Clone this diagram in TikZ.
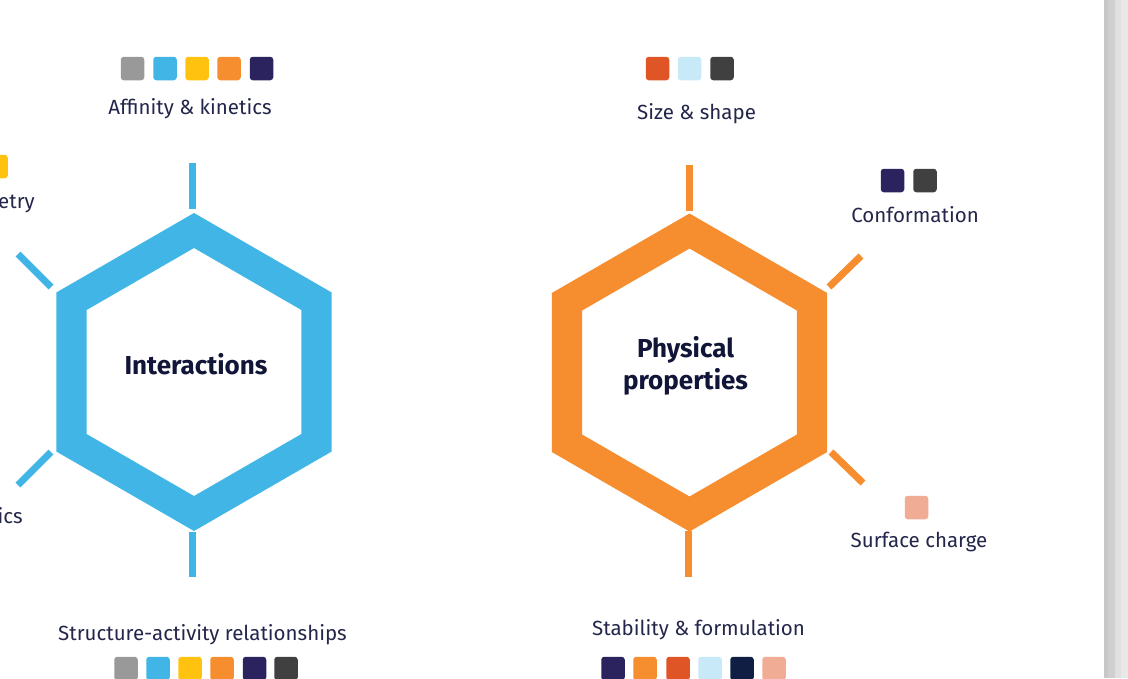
\documentclass[tikz,border=0pt]{standalone}
\usepackage{fontspec}
\setmainfont{Fira Sans}
\usetikzlibrary{calc}
\definecolor{cblue}{HTML}{41B6E6}
\definecolor{corange}{HTML}{F68D2E}
\definecolor{cgray}{HTML}{999999}
\definecolor{cyellow}{HTML}{FFC20E}
\definecolor{cnavy}{HTML}{2B235E}
\definecolor{cdark}{HTML}{404040}
\definecolor{cred}{HTML}{E05526}
\definecolor{clight}{HTML}{C8E9F8}
\definecolor{cdeep}{HTML}{0F1E42}
\definecolor{csalmon}{HTML}{F0AC95}
\definecolor{ctext}{HTML}{23264A}
\definecolor{ctitle}{HTML}{111538}
\tikzset{
  sq/.style={rectangle, rounded corners=3pt, minimum size=23.5pt, inner sep=0pt},
  lbl/.style={text=ctext, font=\fontsize{20.5}{22}\selectfont, inner sep=0pt, anchor=base},
  ttl/.style={text=ctitle, font=\fontsize{26}{32}\selectfont\bfseries, align=center, inner sep=0pt},
  spoke/.style={line width=7pt},
}
\begin{document}
\begin{tikzpicture}[x=1pt,y=-1pt]
\useasboundingbox (0,0) rectangle (1128,678);
\clip (0,0) rectangle (1128,678);
\fill[white] (0,0) rectangle (1128,678);
% right edge bar
\fill[black!22] (1104,0) rectangle (1108,678);
\fill[black!19] (1108,0) rectangle (1115,678);
\fill[black!12] (1115,0) rectangle (1121,678);
\fill[black!9] (1121,0) rectangle (1128,678);

% left hexagon
\coordinate (L) at (194,372);
\fill[cblue, even odd rule]
  ($(L)+(90:-159)$) -- ($(L)+(30:-159)$) -- ($(L)+(-30:-159)$) -- ($(L)+(-90:-159)$) -- ($(L)+(-150:-159)$) -- ($(L)+(150:-159)$) -- cycle
  ($(L)+(90:-124)$) -- ($(L)+(30:-124)$) -- ($(L)+(-30:-124)$) -- ($(L)+(-90:-124)$) -- ($(L)+(-150:-124)$) -- ($(L)+(150:-124)$) -- cycle;
\node[ttl] (tInt) at (196,364) {Interactions};
\coordinate (lt1) at (192,163); \coordinate (lt2) at (192,209);
\coordinate (lb1) at (192,532); \coordinate (lb2) at (192,577);
\coordinate (lu1) at (18,254); \coordinate (lu2) at (51,287);
\coordinate (ll1) at (18,485); \coordinate (ll2) at (51,452);
\draw[spoke, cblue] (lt1) -- (lt2);
\draw[spoke, cblue] (lb1) -- (lb2);
\draw[spoke, cblue] (lu1) -- (lu2);
\draw[spoke, cblue] (ll1) -- (ll2);

% right hexagon
\coordinate (R) at (689.5,372.5);
\fill[corange, even odd rule]
  ($(R)+(90:-159)$) -- ($(R)+(30:-159)$) -- ($(R)+(-30:-159)$) -- ($(R)+(-90:-159)$) -- ($(R)+(-150:-159)$) -- ($(R)+(150:-159)$) -- cycle
  ($(R)+(90:-124)$) -- ($(R)+(30:-124)$) -- ($(R)+(-30:-124)$) -- ($(R)+(-90:-124)$) -- ($(R)+(-150:-124)$) -- ($(R)+(150:-124)$) -- cycle;
\node[ttl] (tPhys) at (685.5,366) {Physical\\properties};
\coordinate (rt1) at (689,165); \coordinate (rt2) at (689,211);
\coordinate (rb1) at (688,531); \coordinate (rb2) at (688,577);
\coordinate (ru1) at (829,287); \coordinate (ru2) at (861,256);
\coordinate (rl1) at (831,452); \coordinate (rl2) at (863,483);
\draw[spoke, corange] (rt1) -- (rt2);
\draw[spoke, corange] (rb1) -- (rb2);
\draw[spoke, corange] (ru1) -- (ru2);
\draw[spoke, corange] (rl1) -- (rl2);

% labels
\node[lbl] (aff) at (190,114) {Affinity \& kinetics};
\node[lbl] (size) at (696.5,119) {Size \& shape};
\node[lbl] (conf) at (915,222) {Conformation};
\node[lbl] (surf) at (919,547) {Surface charge};
\node[lbl] (sar) at (202.5,640) {Structure-activity relationships};
\node[lbl] (stab) at (698.5,635) {Stability \& formulation};
\node[lbl, anchor=base east] (etry) at (35,208) {etry};
\node[lbl, anchor=base east] (ics) at (23,523) {ics};

% squares
\node[sq, fill=cyellow] (py) at (-4,166.5) {};
\node[sq, fill=cgray] (a1) at (132.5,68.5) {};
\node[sq, fill=cblue] (a2) at (165,68.5) {};
\node[sq, fill=cyellow] (a3) at (197,68.5) {};
\node[sq, fill=corange] (a4) at (229,68.5) {};
\node[sq, fill=cnavy] (a5) at (261.5,68.5) {};

\node[sq, fill=cred] (s1) at (657.5,68.5) {};
\node[sq, fill=clight] (s2) at (689.5,68.5) {};
\node[sq, fill=cdark] (s3) at (722,68.5) {};

\node[sq, fill=cnavy] (c1) at (892.5,180.5) {};
\node[sq, fill=cdark] (c2) at (925,180.5) {};

\node[sq, fill=csalmon] (u1) at (916.5,507.5) {};

\node[sq, fill=cgray] (r1) at (126,668.5) {};
\node[sq, fill=cblue] (r2) at (158,668.5) {};
\node[sq, fill=cyellow] (r3) at (190,668.5) {};
\node[sq, fill=corange] (r4) at (222,668.5) {};
\node[sq, fill=cnavy] (r5) at (254.5,668.5) {};
\node[sq, fill=cdark] (r6) at (286,668.5) {};

\node[sq, fill=cnavy] (f1) at (613,668.5) {};
\node[sq, fill=corange] (f2) at (645,668.5) {};
\node[sq, fill=cred] (f3) at (678,668.5) {};
\node[sq, fill=clight] (f4) at (710,668.5) {};
\node[sq, fill=cdeep] (f5) at (742,668.5) {};
\node[sq, fill=csalmon] (f6) at (774,668.5) {};
\end{tikzpicture}
\end{document}
